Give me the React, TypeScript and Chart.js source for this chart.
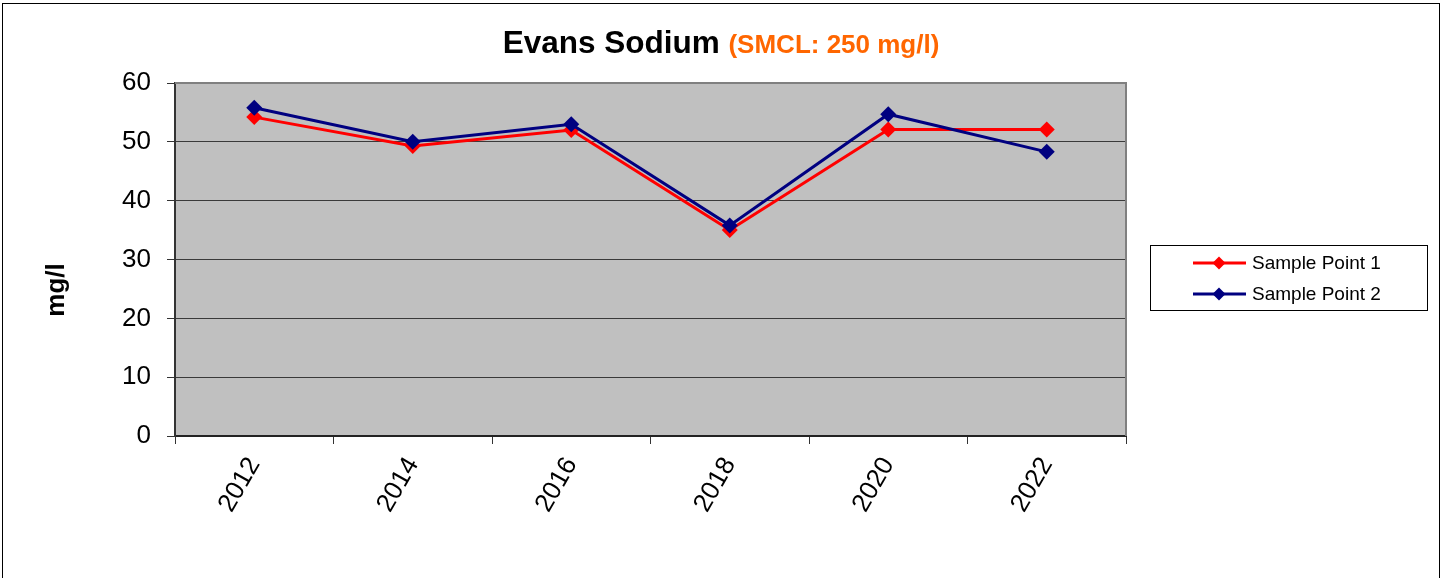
import React, { useEffect, useRef } from "react";
import { Chart, registerables } from "chart.js";

Chart.register(...registerables);

const categories: string[] = ["2012", "2014", "2016", "2018", "2020", "2022"];
const samplePoint1: number[] = [54.2, 49.3, 52.0, 35.0, 52.1, 52.1];
const samplePoint2: number[] = [55.8, 50.0, 53.0, 35.8, 54.7, 48.3];
const seriesNames: string[] = ["Sample Point 1", "Sample Point 2"];
const seriesColors: string[] = ["#FF0000", "#000080"];
const yMin = 0;
const yMax = 60;
const yStep = 10;
const titleMain = "Evans Sodium";
const titleSub = "(SMCL: 250 mg/l)";
const yAxisTitle = "mg/l";

const FONT = "Arial, 'Liberation Sans', sans-serif";

const decorPlugin = {
  id: "decor",
  beforeDraw(chart: any) {
    const { ctx, chartArea } = chart;
    ctx.save();
    ctx.fillStyle = "#FFFFFF";
    ctx.fillRect(0, 0, chart.width, chart.height);
    ctx.fillStyle = "#C0C0C0";
    ctx.fillRect(chartArea.left, chartArea.top, chartArea.right - chartArea.left, chartArea.bottom - chartArea.top);
    ctx.restore();
  },
  beforeDatasetsDraw(chart: any) {
    const { ctx, chartArea } = chart;
    ctx.save();
    ctx.strokeStyle = "#808080";
    ctx.lineWidth = 2;
    ctx.beginPath();
    ctx.moveTo(chartArea.left, chartArea.top);
    ctx.lineTo(chartArea.right, chartArea.top);
    ctx.lineTo(chartArea.right, chartArea.bottom);
    ctx.stroke();
    ctx.restore();
  },
  afterDraw(chart: any) {
    const { ctx } = chart;
    ctx.save();
    // outer frame
    ctx.strokeStyle = "#000000";
    ctx.lineWidth = 1;
    ctx.strokeRect(2.5, 3.5, chart.width - 5, chart.height + 20);

    // title
    ctx.textBaseline = "alphabetic";
    ctx.textAlign = "left";
    const f1 = `bold 31.5px ${FONT}`;
    const f2 = `bold 26px ${FONT}`;
    ctx.font = f1;
    const w1 = ctx.measureText(titleMain).width;
    const gap = ctx.measureText(" ").width;
    ctx.font = f2;
    const w2 = ctx.measureText(titleSub).width;
    const total = w1 + gap + w2;
    const x0 = chart.width / 2 - total / 2;
    ctx.font = f1;
    ctx.fillStyle = "#000000";
    ctx.fillText(titleMain, x0, 53);
    ctx.font = f2;
    ctx.fillStyle = "#FF6600";
    ctx.fillText(titleSub, x0 + w1 + gap, 53);

    // y-axis title
    ctx.save();
    ctx.translate(57, 290);
    ctx.rotate(-Math.PI / 2);
    ctx.font = `bold 26px ${FONT}`;
    ctx.fillStyle = "#000000";
    ctx.textAlign = "center";
    ctx.textBaseline = "middle";
    ctx.fillText(yAxisTitle, 0, 0);
    ctx.restore();

    // legend
    const bx = 1150.5, by = 245.5, bw = 277, bh = 65;
    ctx.strokeStyle = "#000000";
    ctx.lineWidth = 1;
    ctx.strokeRect(bx, by, bw, bh);
    const rows = [263, 294];
    chart.data.datasets.forEach((ds: any, i: number) => {
      const y = rows[i];
      ctx.strokeStyle = ds.borderColor;
      ctx.lineWidth = 3;
      ctx.beginPath();
      ctx.moveTo(1193, y);
      ctx.lineTo(1246, y);
      ctx.stroke();
      ctx.fillStyle = ds.borderColor;
      const r = 6.5;
      ctx.beginPath();
      ctx.moveTo(1219 - r, y);
      ctx.lineTo(1219, y - r);
      ctx.lineTo(1219 + r, y);
      ctx.lineTo(1219, y + r);
      ctx.closePath();
      ctx.fill();
      ctx.fillStyle = "#000000";
      ctx.font = `19px ${FONT}`;
      ctx.textAlign = "left";
      ctx.textBaseline = "middle";
      ctx.fillText(ds.label, 1252, y + 1);
    });
    ctx.restore();
  },
};

export default function App() {
  const canvasRef = useRef<HTMLCanvasElement | null>(null);

  useEffect(() => {
    document.body.style.margin = "0";
    const canvas = canvasRef.current;
    if (!canvas) return;
    const chart = new Chart(canvas, {
      type: "line",
      data: {
        labels: categories,
        datasets: [
          {
            label: seriesNames[0],
            data: samplePoint1,
            borderColor: seriesColors[0],
            backgroundColor: seriesColors[0],
            borderWidth: 3,
            pointStyle: "rectRot",
            pointRadius: 8,
            pointBorderWidth: 0,
            tension: 0,
            order: 1,
          },
          {
            label: seriesNames[1],
            data: samplePoint2,
            borderColor: seriesColors[1],
            backgroundColor: seriesColors[1],
            borderWidth: 3,
            pointStyle: "rectRot",
            pointRadius: 8,
            pointBorderWidth: 0,
            tension: 0,
            order: 0,
          },
        ],
      },
      options: {
        responsive: false,
        animation: false,
        devicePixelRatio: 1,
        layout: { padding: { left: 0, top: 83, right: 316, bottom: 0 } },
        plugins: {
          legend: { display: false },
          title: { display: false },
          tooltip: { enabled: false },
        },
        scales: {
          x: {
            type: "category",
            offset: true,
            grid: {
              display: true,
              offset: true,
              drawOnChartArea: false,
              drawTicks: true,
              tickLength: 8,
              tickColor: "#333333",
              tickWidth: 1,
            },
            border: { display: true, color: "#222222", width: 2 },
            ticks: {
              color: "#000000",
              font: { family: FONT, size: 26 },
              maxRotation: 60,
              minRotation: 60,
              padding: 8,
              autoSkip: false,
            },
            afterFit(scale: any) {
              scale.height = 142;
            },
          },
          y: {
            min: yMin,
            max: yMax,
            grid: {
              display: true,
              color: "#3A3A3A",
              lineWidth: 1,
              drawTicks: true,
              tickLength: 8,
              tickColor: "#333333",
            },
            border: { display: true, color: "#333333", width: 2 },
            ticks: {
              stepSize: yStep,
              color: "#000000",
              font: { family: FONT, size: 26 },
              padding: 16,
            },
            afterFit(scale: any) {
              scale.width = 175;
            },
          },
        },
      },
      plugins: [decorPlugin],
    });
    return () => chart.destroy();
  }, []);

  return (
    <div style={{ width: 1442, height: 578, position: "relative" }}>
      <canvas ref={canvasRef} width={1442} height={578} style={{ display: "block" }} />
    </div>
  );
}
